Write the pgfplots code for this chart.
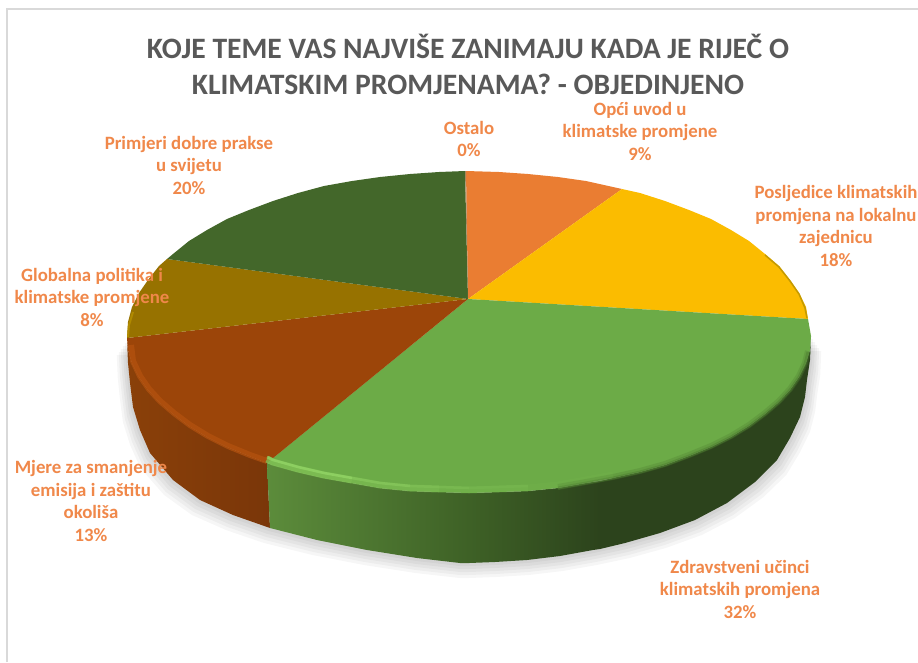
\documentclass[border=0pt]{standalone}
\usepackage{pgfplots}
\usepackage{pgfplotstable}
\usepackage{fontspec}
\setmainfont{Carlito}
\pgfplotsset{compat=1.18}
\definecolor{lab}{HTML}{F0884A}
\definecolor{ttl}{HTML}{595959}
\definecolor{frm}{HTML}{D9D9D9}
\definecolor{cOrange}{HTML}{EA7D32}
\definecolor{cYellow}{HTML}{FBBC00}
\definecolor{cGreen}{HTML}{6CAB47}
\definecolor{cBrown}{HTML}{9C4509}
\definecolor{cOlive}{HTML}{977200}
\definecolor{cDark}{HTML}{43672A}
\definecolor{sOliveA}{HTML}{B08A00}
\definecolor{sBrownA}{HTML}{8A4009}
\definecolor{sBrownB}{HTML}{7A3609}
\definecolor{sGreenA}{HTML}{5C8C3B}
\definecolor{sGreenB}{HTML}{3E6126}
\definecolor{sGreenC}{HTML}{2C431C}
\definecolor{cOstalo}{HTML}{A9865A}
\definecolor{bBrown}{HTML}{B5530F}
\definecolor{bGreenR}{HTML}{4F7F31}
\definecolor{bGreenL}{HTML}{7FC054}
\definecolor{bGreenH}{HTML}{95D868}
\definecolor{bYellow}{HTML}{C49A00}
\pgfplotstableread{
x y
811 336
810 360
807 380
805 397
800 417
790 438
777 460
755 482
727 503
695 520
660 533
625 543
593 550
560 556
527 560
495 562
469 563
460 563
417 558
367 550
317 540
270 528
233 515
200 500
173 480
150 453
140 430
133 407
130 383
128 363
127 340
}\silhouette
\pgfplotstableread{
x y
558 488
586 483
613 478
640 472
665 465
689 456
711 447
731 437
749 426
765 414
779 402
790 390
799 377
805 364
808 352
}\rimGreenRight
\pgfplotstableread{
x y
131 345
133 361
140 376
149 389
160 401
174 413
190 425
208 436
228 446
250 455
267 461
}\rimBrown
\begin{document}
\begin{tikzpicture}
\begin{axis}[
  scale only axis, width=918pt, height=662pt,
  xmin=0, xmax=918, ymin=0, ymax=662, y dir=reverse,
  hide axis, clip=true,
  every axis plot/.append style={forget plot},
]
% page background keeps the whole canvas in the picture
\addplot[draw=none, fill=white] coordinates {(0,0) (918,0) (918,662) (0,662)};
% frame
\addplot[draw=frm, line width=2pt] coordinates {(7,662) (7,9) (918,9)};
% soft shadow
\addplot[fill=black, fill opacity=.035, draw=none] table[x expr={469+(\thisrow{x}-469)*1.030}, y expr={\thisrow{y}+15}] {\silhouette};
\addplot[fill=black, fill opacity=.035, draw=none] table[x expr={469+(\thisrow{x}-469)*1.024}, y expr={\thisrow{y}+12}] {\silhouette};
\addplot[fill=black, fill opacity=.035, draw=none] table[x expr={469+(\thisrow{x}-469)*1.018}, y expr={\thisrow{y}+9}] {\silhouette};
\addplot[fill=black, fill opacity=.035, draw=none] table[x expr={469+(\thisrow{x}-469)*1.012}, y expr={\thisrow{y}+6}] {\silhouette};
\addplot[fill=black, fill opacity=.035, draw=none] table[x expr={469+(\thisrow{x}-469)*1.006}, y expr={\thisrow{y}+3}] {\silhouette};
% sides
\addplot[draw=none, left color=sBrownA, right color=sBrownB] coordinates {
(127,340) (128,350) (132,363) (139,377) (148,390) (159,402) (173,414) (189,426) (207,437) (227,447) (249,456) (267,463)
(270,528) (233,515) (200,500) (173,480) (150,453) (140,430) (133,407) (130,383) (128,363)};
\addplot[draw=none, left color=sGreenA, right color=sGreenB] coordinates {
(267,463) (273,465) (298,472) (324,478) (352,483) (380,488) (410,491) (439,492) (469,493)
(469,563) (460,563) (417,558) (367,550) (317,540) (270,528)};
\addplot[draw=none, left color=sGreenB, right color=sGreenC] coordinates {
(469,493) (499,492) (528,491) (558,488) (586,483) (600,481)
(600,549) (593,550) (560,556) (527,560) (495,562) (469,563)};
\addplot[draw=none, fill=sGreenC] coordinates {
(600,481) (613,478) (640,472) (665,465) (689,456) (711,447) (731,437) (749,426) (765,414) (779,402) (790,390) (799,377) (806,363) (810,350) (811,336)
(810,360) (807,380) (805,397) (800,417) (790,438) (777,460) (755,482) (727,503) (695,520) (660,533) (625,543) (600,549)};
% top face: 9, 18, 32, 13, 8, 20, 0 per cent
\addplot[draw=none, fill=cOrange] coordinates {(468,299) (466,171) (499,172) (528,174) (558,177) (586,181) (622,189)};
\addplot[draw=none, fill=cYellow] coordinates {(468,299) (622,189) (640,193) (665,201) (689,210) (711,219) (731,230) (749,241) (765,254) (779,266) (790,280) (799,293) (806,307) (808,319)};
\addplot[draw=none, fill=cGreen] coordinates {(468,299) (808,319) (811,336) (810,350) (806,363) (799,377) (790,390) (779,402) (765,414) (749,426) (731,437) (711,447) (689,456) (665,465) (640,472) (613,478) (586,483) (558,488) (528,491) (499,492) (469,493) (439,492) (410,491) (380,488) (352,483) (324,478) (298,472) (273,465) (267,463)};
\addplot[draw=none, fill=cBrown] coordinates {(468,299) (267,463) (249,456) (227,447) (207,437) (189,426) (173,414) (159,402) (148,390) (139,377) (132,363) (128,350) (127,338)};
\addplot[draw=none, fill=cOlive] coordinates {(468,299) (127,338) (128,322) (132,307) (139,293) (148,280) (159,266) (167,259)};
\addplot[draw=none, fill=cDark] coordinates {(468,299) (167,259) (173,254) (189,241) (207,230) (227,219) (249,210) (273,201) (298,193) (324,186) (352,181) (380,177) (410,174) (439,172) (465,171)};
\addplot[draw=none, fill=cOstalo] coordinates {(468,299) (465,171) (466,171)};
% bevels
\addplot[draw=sOliveA, line width=2pt] coordinates {(133,312) (129,325) (128,337)};
\addplot[draw=bYellow, line width=1.5pt] coordinates {(765,255) (779,267) (790,281) (799,294) (805,308) (807,318)};
\addplot[draw=bBrown, line width=6pt, opacity=.7] table[x=x, y=y] {\rimBrown};
\addplot[draw=bGreenR, line width=6pt, opacity=.3] table[x=x, y expr={\thisrow{y}-1}] {\rimGreenRight};
\addplot[draw=bGreenR, line width=3pt, opacity=.5] table[x=x, y=y] {\rimGreenRight};
\addplot[draw=bGreenL, line width=7pt, opacity=.8] coordinates {(267,459) (273,462) (298,469) (324,475) (352,480)};
\addplot[draw=bGreenL, line width=7pt, opacity=.55] coordinates {(352,480) (380,485) (410,488) (439,489)};
\addplot[draw=bGreenL, line width=7pt, opacity=.3] coordinates {(439,489) (469,490) (499,489) (528,488)};
\addplot[draw=bGreenL, line width=7pt, opacity=.12] coordinates {(528,488) (558,485) (586,480) (613,475)};
\addplot[draw=bGreenH, line width=2.5pt, opacity=.7] coordinates {(267,457) (273,460) (298,467) (324,473) (352,478)};
\addplot[draw=bGreenH, line width=2.5pt, opacity=.4] coordinates {(352,478) (380,483) (410,486)};
\addplot[draw=bGreenH, line width=2.5pt, opacity=.2] coordinates {(410,486) (439,487) (469,488)};
\addplot[draw=bGreenH, line width=2.5pt, opacity=.1] coordinates {(469,488) (499,487) (528,486)};
% labels
\node[align=center, font=\fontsize{29.6}{36}\selectfont\bfseries, text=ttl] at (axis cs:468,64) {KOJE TEME VAS NAJVIŠE ZANIMAJU KADA JE RIJEČ O\\KLIMATSKIM PROMJENAMA? - OBJEDINJENO};
\tikzset{lb/.style={align=center, font=\fontsize{18.8}{22.5}\selectfont\bfseries, text=lab}}
\node[lb] at (axis cs:189,165) {Primjeri dobre prakse\\u svijetu\\20\%};
\node[lb] at (axis cs:469,139) {Ostalo\\0\%};
\node[lb] at (axis cs:640,131) {Opći uvod u\\klimatske promjene\\9\%};
\node[lb] at (axis cs:836,226) {Posljedice klimatskih\\promjena na lokalnu\\zajednicu\\18\%};
\node[lb] at (axis cs:92,297) {Globalna politika i\\klimatske promjene\\8\%};
\node[lb] at (axis cs:91,501) {Mjere za smanjenje\\emisija i zaštitu\\okoliša\\13\%};
\node[lb] at (axis cs:740,589) {Zdravstveni učinci\\klimatskih promjena\\32\%};
\end{axis}
\end{tikzpicture}
\end{document}
